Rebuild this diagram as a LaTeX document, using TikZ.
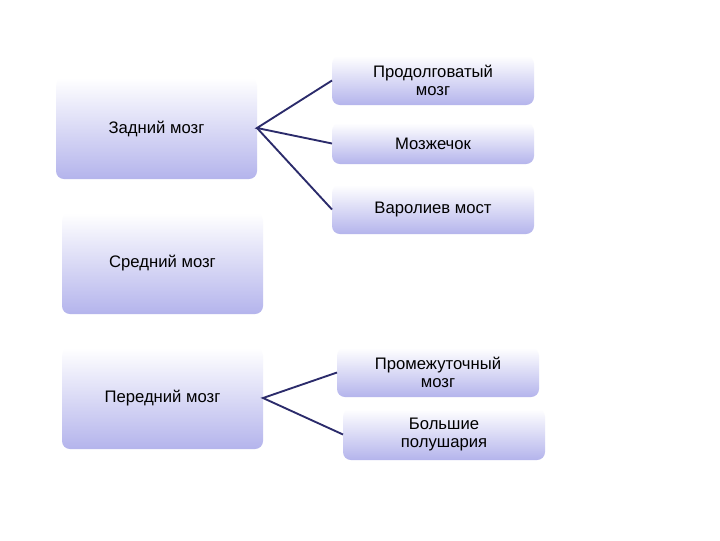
\documentclass[tikz,border=0pt]{standalone}
\usepackage{fontspec}
\setmainfont{Liberation Sans}
\definecolor{lav}{HTML}{B4B4EC}
\definecolor{edge}{HTML}{2B2B6B}
\begin{document}
\begin{tikzpicture}[x=0.75pt,y=-0.75pt,
  box/.style={rounded corners=6pt,top color=white,bottom color=lav,draw=none},
  lbl/.style={font=\fontsize{12.5}{14}\selectfont,align=center,text=black},
  conn/.style={draw=edge,line width=1.4pt}]
\useasboundingbox (0,0) rectangle (720,540);
\fill[white] (0,0) rectangle (720,540);
\newcommand{\bx}[6]{\path[box] (#2,#3) rectangle (#4,#5); \node[lbl] (#1) at ({(#2+#4)/2},{(#3+#5)/2}) {#6}; \coordinate (#1W) at (#2,{(#3+#5)/2}); \coordinate (#1E) at (#4,{(#3+#5)/2});}
\bx{z}{56}{78}{257}{179}{Задний мозг}
\bx{s}{62}{213}{263}{314}{Средний мозг}
\bx{p}{62}{348}{263}{449}{Передний мозг}
\bx{a}{332}{56}{534}{105}{Продолговатый\\мозг}
\bx{b}{332}{123}{534}{164}{Мозжечок}
\bx{c}{332}{185}{534}{234}{Варолиев мост}
\bx{d}{337}{348}{539}{397}{Промежуточный\\мозг}
\bx{e}{343}{409}{545}{460}{Большие\\полушария}
\coordinate (zc) at (257,128);
\coordinate (pc) at (263,398);
\draw[conn] (aW) -- (zc) -- (bW);
\draw[conn] (zc) -- (cW);
\draw[conn] (dW) -- (pc) -- (eW);
\end{tikzpicture}
\end{document}
